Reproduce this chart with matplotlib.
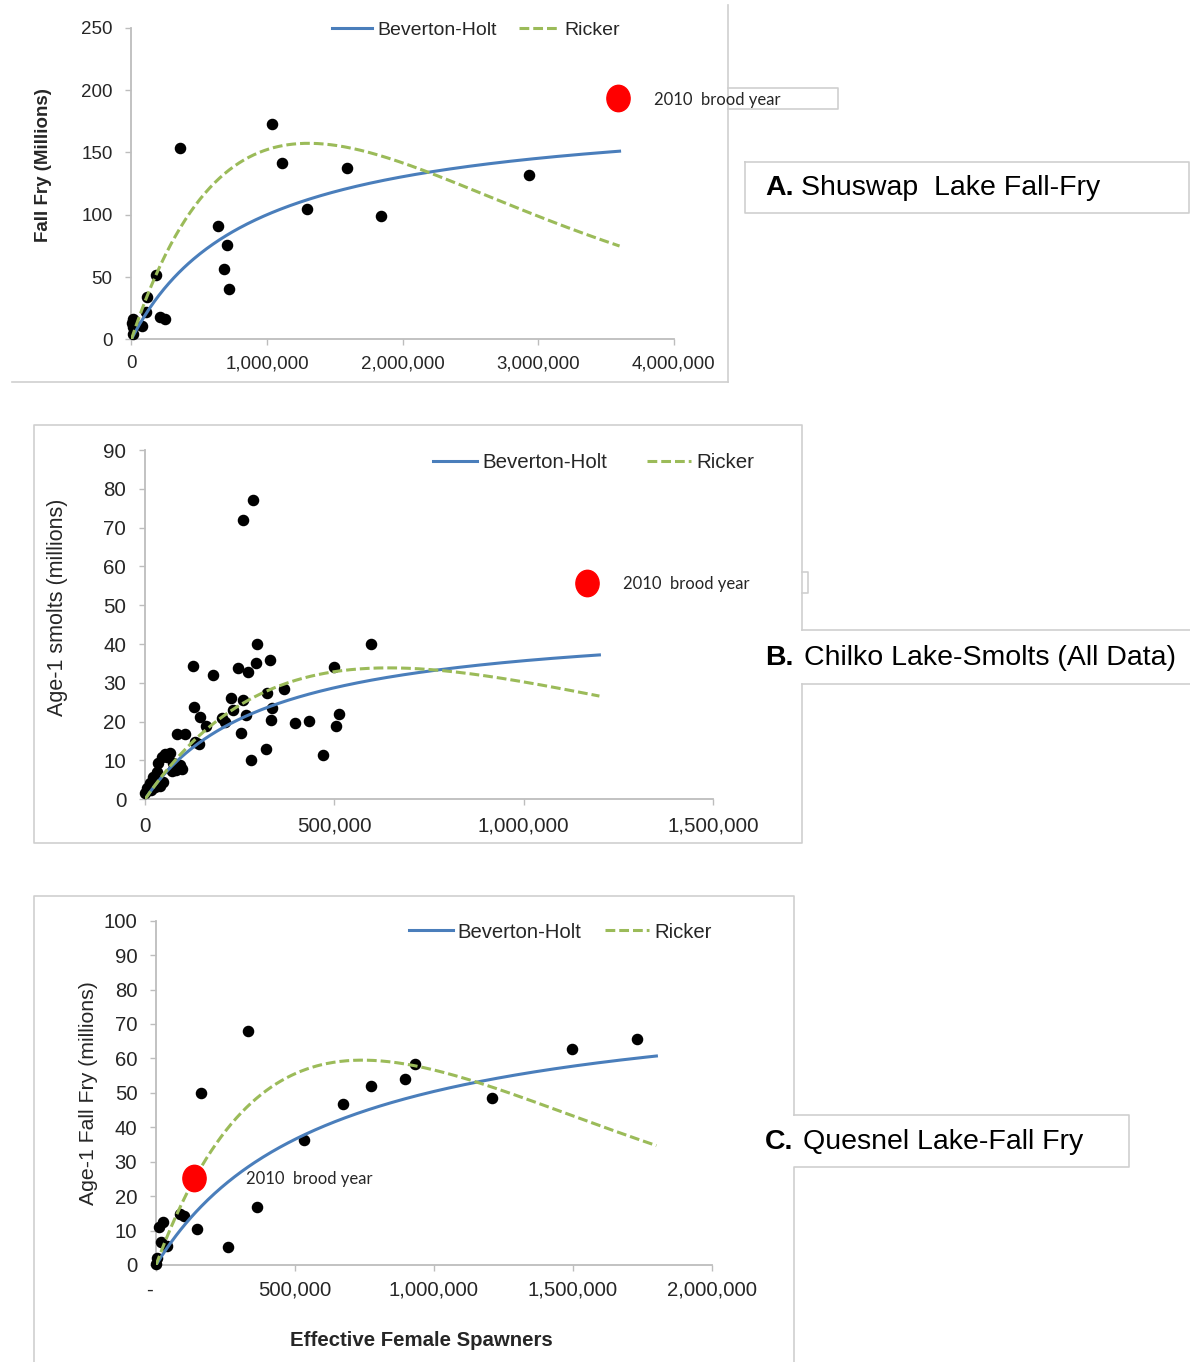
import numpy as np
import matplotlib
matplotlib.use('Agg')
import matplotlib.pyplot as plt
from matplotlib.lines import Line2D
from matplotlib.path import Path
from matplotlib.transforms import Affine2D
from matplotlib.ticker import FuncFormatter, MultipleLocator

plt.rcParams['font.family'] = ['Liberation Sans', 'DejaVu Sans']

# --- A. Shuswap Lake fall fry (effective female spawners, fry in millions)
shuswap_spawners = [358000, 1038000, 1108000, 1587000, 1294000, 1844000, 638000, 702000,
                    680000, 721000, 181000, 115000, 108000, 211000, 250000, 80000,
                    10000, 8000, 12000, 15000, 2930000]
shuswap_fry = [153.3, 172.5, 141.3, 137.2, 104.3, 99.2, 90.7, 75.4,
               56.4, 40.1, 51.6, 34.0, 21.7, 18.1, 16.3, 10.9,
               16.0, 13.0, 10.0, 4.0, 131.9]
shuswap_2010 = [3586000, 193.7]
# fitted parameters, spawners in millions: (alpha, beta)
shuswap_bh = [213.9, 1.139]
shuswap_ricker = [327.4, 0.7657]
shuswap_fit_max = 3600000

# --- B. Chilko Lake age-1 smolts (all data), spawners in thousands
chilko_spawners_k = [259, 284, 297, 597, 126, 245, 272, 294, 330, 498, 180, 367, 323, 227,
                     259, 232, 130, 268, 335, 146, 204, 212, 162, 332, 396, 434, 504, 512,
                     253, 84, 106, 320, 470, 281, 142, 132,
                     53, 66, 44, 57, 35, 75, 92, 82, 97, 70, 31, 22, 13, 4, 0, 48, 40, 26, 16]
chilko_smolts = [72.0, 77.1, 39.9, 39.9, 34.4, 33.8, 32.9, 35.0, 35.9, 34.2, 32.0, 28.5, 27.5, 26.2,
                 25.6, 23.0, 23.7, 21.8, 23.5, 21.3, 21.0, 20.0, 18.9, 20.4, 19.6, 20.2, 18.9, 22.0,
                 17.0, 16.7, 16.7, 13.0, 11.3, 10.0, 14.2, 14.8,
                 11.8, 12.0, 11.0, 10.8, 9.3, 9.4, 8.8, 7.5, 7.7, 7.3, 7.1, 5.7, 4.3, 2.8, 1.5, 4.5, 3.4, 3.2, 2.4]
chilko_2010 = [1168000, 55.7]
chilko_bh = [147.36, 3.128]
chilko_ricker = [143.0, 1.5535]
chilko_fit_max = 1200000

# --- C. Quesnel Lake fall fry, spawners in thousands
quesnel_spawners_k = [332, 161, 531, 674, 774, 897, 933, 1210, 1498, 1730,
                      364, 258, 148, 88, 100, 12, 24, 17, 38, 2, 0]
quesnel_fry = [67.9, 49.9, 36.3, 46.7, 52.0, 54.0, 58.3, 48.5, 62.8, 65.6,
               16.9, 5.3, 10.5, 14.8, 14.2, 11.1, 12.4, 6.6, 5.5, 1.9, 0.3]
quesnel_2010 = [137000, 25.3]
quesnel_bh = [132.24, 1.623]
quesnel_ricker = [217.97, 1.3477]
quesnel_fit_max = 1800000

BLUE = '#4a7ebb'
GREEN = '#9bbb59'
EDGE = '#cfcfcf'
AXIS = '#bdbdbd'
TXT = '#262626'
RICKER_DASH = (0, (3.2, 1.3))
LW = 2.2

W, H = 1190, 1362
fig = plt.figure(figsize=(W / 100, H / 100), dpi=100)


def px_rect(l, t, r, b):
    return [l / W, 1 - b / H, (r - l) / W, (b - t) / H]


def fx(x):
    return x / W


def fy(y):
    return 1 - y / H


def frame_line(xs, ys):
    fig.add_artist(Line2D([fx(x) for x in xs], [fy(y) for y in ys],
                          transform=fig.transFigure, color=EDGE, lw=1.2))


def beverton_holt(s, alpha, beta):
    sm = s / 1e6
    return alpha * sm / (1 + beta * sm)


def ricker(s, alpha, beta):
    sm = s / 1e6
    return alpha * sm * np.exp(-beta * sm)


red_oval = Path.unit_circle().transformed(Affine2D().scale(0.88, 1.0))


def thousands(v, pos):
    return f'{v:,.0f}'


def draw_panel(rect, spawners, recruits, brood, bh, rk, fit_max,
               xmax, xstep, ymax, ystep, fs, zero_dash=False, ypad=7, xpad=6):
    ax = fig.add_axes(px_rect(*rect))
    s = np.linspace(0, fit_max, 300)
    ax.plot(spawners, recruits, 'o', color='black', ms=7.3, clip_on=False, zorder=3)
    ax.plot(s, beverton_holt(s, *bh), color=BLUE, lw=LW, zorder=4)
    ax.plot(s, ricker(s, *rk), color=GREEN, lw=LW, ls=RICKER_DASH, zorder=4)
    ax.plot([brood[0]], [brood[1]], marker=red_oval, color='#ff0000', ms=19,
            ls='none', clip_on=False, zorder=5)
    ax.set_xlim(0, xmax)
    ax.set_ylim(0, ymax)
    ax.xaxis.set_major_locator(MultipleLocator(xstep))
    ax.yaxis.set_major_locator(MultipleLocator(ystep))
    if zero_dash:
        ax.xaxis.set_major_formatter(FuncFormatter(lambda v, p: '-  ' if v == 0 else f'{v:,.0f}'))
    else:
        ax.xaxis.set_major_formatter(FuncFormatter(thousands))
    for side in ['top', 'right']:
        ax.spines[side].set_visible(False)
    for side in ['left', 'bottom']:
        ax.spines[side].set_color(AXIS)
        ax.spines[side].set_linewidth(1.3)
    ax.tick_params(direction='out', length=4.5, width=1, color=AXIS,
                   labelsize=fs, labelcolor=TXT)
    ax.tick_params(axis='y', pad=ypad)
    ax.tick_params(axis='x', pad=xpad)
    ax.patch.set_alpha(0)
    return ax


def add_legend(cx, cy, fs, hl, tp, cs):
    handles = [Line2D([], [], color=BLUE, lw=LW),
               Line2D([], [], color=GREEN, lw=LW, ls=RICKER_DASH)]
    fig.legend(handles, ['Beverton-Holt', 'Ricker'], loc='center',
               bbox_to_anchor=(fx(cx), fy(cy)), ncol=2, frameon=False, fontsize=fs,
               handlelength=hl, handletextpad=tp, columnspacing=cs,
               borderpad=0, borderaxespad=0, labelcolor=TXT)


def brood_label(x, y):
    fig.text(fx(x), fy(y), '2010  brood year', family='Lato', fontsize=12,
             color=TXT, ha='left', va='center')


def panel_title(x, y, letter, rest, rest_x):
    fig.text(fx(x), fy(y), letter, fontsize=20.5, fontweight='bold', color='black',
             ha='left', va='center')
    fig.text(fx(rest_x), fy(y), rest, fontsize=20.5, color='black', ha='left', va='center')


# frames around the three panels and their titles
frame_line([728, 728], [5, 382])
frame_line([12, 728], [382, 382])
frame_line([728, 838, 838, 728], [88, 88, 109, 109])
frame_line([745, 1189, 1189, 745, 745], [162, 162, 213, 213, 162])

frame_line([802, 802, 34, 34, 802, 802], [630, 425, 425, 843, 843, 684])
frame_line([802, 808, 808, 802], [572, 572, 593, 593])
frame_line([802, 1190], [630, 630])
frame_line([802, 1190], [684, 684])

frame_line([34, 34, 794, 794], [1362, 896, 896, 1115])
frame_line([794, 1129, 1129, 794, 794], [1115, 1115, 1167, 1167, 1362])

# A. Shuswap
draw_panel((131.4, 27.8, 673.8, 339.3), shuswap_spawners, shuswap_fry, shuswap_2010,
           shuswap_bh, shuswap_ricker, shuswap_fit_max, 4000000, 1000000, 250, 50, 13.5,
           ypad=9, xpad=7)
add_legend(476, 30, 14, 2.06, 0.26, 1.13)
brood_label(654, 100)
fig.text(fx(44), fy(165), 'Fall Fry (Millions)', rotation=90, fontsize=13.5,
         fontweight='bold', color=TXT, ha='center', va='center')
panel_title(765, 188, 'A.', 'Shuswap  Lake Fall-Fry', 801)

# B. Chilko
draw_panel((145, 450, 713, 799.3), [v * 1000 for v in chilko_spawners_k], chilko_smolts,
           chilko_2010, chilko_bh, chilko_ricker, chilko_fit_max, 1500000, 500000, 90, 10,
           14.8, ypad=9, xpad=8)
add_legend(593.5, 463, 14.8, 2.15, 0.24, 1.95)
brood_label(623, 584)
fig.text(fx(57), fy(607), 'Age-1 smolts (millions)', rotation=90, fontsize=15.5,
         color=TXT, ha='center', va='center')
panel_title(765, 658, 'B.', 'Chilko Lake-Smolts (All Data)', 804)

# C. Quesnel
draw_panel((156, 920.7, 712, 1265), [v * 1000 for v in quesnel_spawners_k], quesnel_fry,
           quesnel_2010, quesnel_bh, quesnel_ricker, quesnel_fit_max, 2000000, 500000, 100, 10,
           14.6, zero_dash=True, ypad=9, xpad=7)
add_legend(560, 932, 14.6, 2.17, 0.24, 1.18)
brood_label(246, 1179)
fig.text(fx(89), fy(1093), 'Age-1 Fall Fry (millions)', rotation=90, fontsize=15.3,
         color=TXT, ha='center', va='center')
fig.text(fx(421), fy(1340), 'Effective Female Spawners', fontsize=14.7, fontweight='bold',
         color=TXT, ha='center', va='center')
panel_title(765, 1142, 'C.', 'Quesnel Lake-Fall Fry', 803)

fig.savefig('out.png', dpi=100, facecolor='white')
